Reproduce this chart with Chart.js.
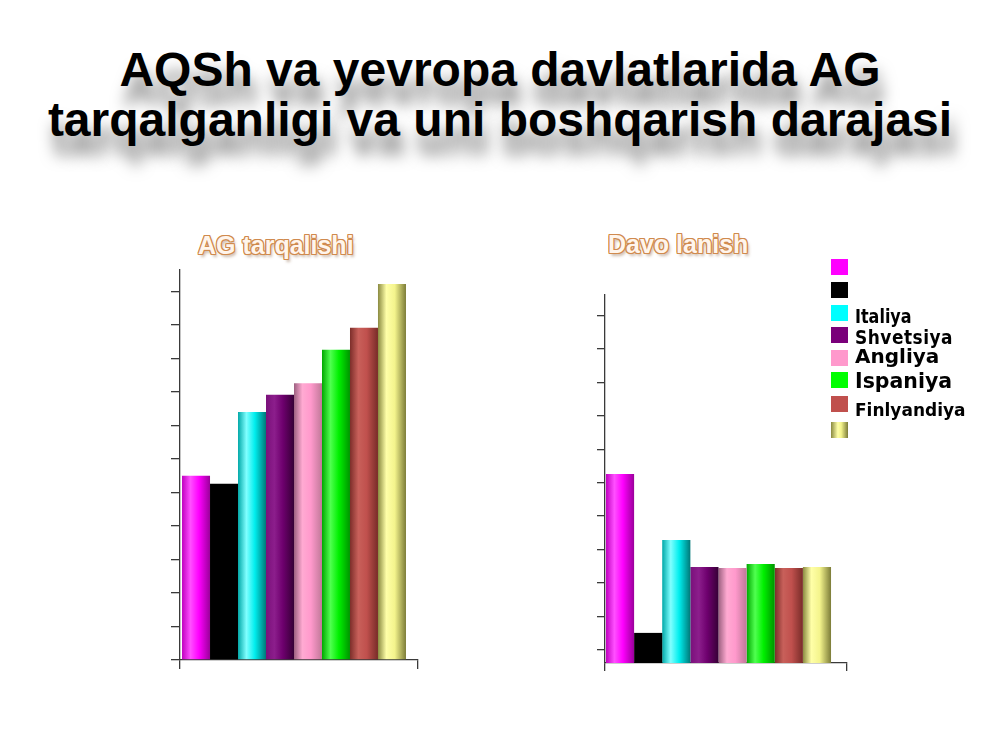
<!DOCTYPE html>
<html><head><meta charset="utf-8">
<script src="https://cdn.jsdelivr.net/npm/chart.js@4.4.1/dist/chart.umd.min.js"></script>
<style>
html,body{margin:0;padding:0;background:#fff;width:1000px;height:750px;overflow:hidden;font-family:"Liberation Sans",Arial,sans-serif}
#title{position:absolute;left:0;top:45px;width:1000px;text-align:center;font-weight:bold;font-size:48px;line-height:49.5px;color:#000;text-shadow:4px 19px 15px rgba(0,0,0,0.5)}
.sub{position:absolute;font-weight:bold;font-size:25px;line-height:25px;color:#fff5ec;white-space:nowrap;
  text-shadow:1px 0 0 #d08a4e,-1px 0 0 #d08a4e,0 1px 0 #d08a4e,0 -1px 0 #d08a4e,1px 1px 0 #d08a4e,-1px -1px 0 #d08a4e,1px -1px 0 #d08a4e,-1px 1px 0 #d08a4e,2px 3px 3px rgba(110,60,20,0.35)}
canvas{position:absolute}
.lb{position:absolute;left:831px;width:17px;height:16px}
.lt{position:absolute;left:855px;font-family:"DejaVu Sans",sans-serif;font-weight:bold;white-space:nowrap;color:#000;transform-origin:0 0.846em}
</style></head>
<body>
<div id="title">AQSh va yevropa davlatlarida AG<br>tarqalganligi va uni boshqarish darajasi</div>
<div class="sub" id="sub1" style="left:198px;top:233px">AG tarqalishi</div>
<div class="sub" id="sub2" style="left:608px;top:232px">Davo lanish</div>
<canvas id="c1" width="270" height="420" style="left:160px;top:260px"></canvas>
<canvas id="c2" width="280" height="400" style="left:584px;top:285px"></canvas>
<div id="legend"></div>
<script>
// ---- data ----
const legendLabels = ["", "", "Italiya", "Shvetsiya", "Angliya", "Ispaniya", "Finlyandiya", ""];
const prevalence = [27.5, 26.3, 37.0, 39.6, 41.3, 46.3, 49.6, 56.1];   // AG tarqalishi
const treatment  = [56.5, 9.0, 36.8, 28.7, 28.4, 29.6, 28.4, 28.7];    // Davo lanish
const prevalenceTicks = [0, 5, 10, 15, 20, 25, 30, 35, 40, 45, 50, 55];
const treatmentTicks  = [3.9, 13.9, 23.9, 33.9, 43.9, 53.9, 63.9, 73.9, 83.9, 93.9, 103.9];

// ---- styles ----
const baseColors = ["#ff00ff", "#000000", "#00ffff", "#7a007a", "#ff99cc", "#00ff00", "#c0504d", "#ffff99"];
const shades = [
  ["#c000c0", "#ff50ff", "#ff00ff", "#9a009a"],
  ["#000000", "#000000", "#000000", "#000000"],
  ["#00a8a8", "#80ffff", "#00eeee", "#007878"],
  ["#7a107a", "#8c1e8c", "#6e006e", "#360036"],
  ["#9c6080", "#ffaad2", "#ff99cc", "#c07898"],
  ["#00a800", "#50ff50", "#00f000", "#009400"],
  ["#7c2e2a", "#c8605a", "#c0504d", "#782c28"],
  ["#8a8a40", "#ffffa8", "#f4f48c", "#7c7c38"]
];
const stops = [0, 0.3, 0.6, 1];
const legendTops = [259, 282, 305, 327, 350, 372, 396, 422];
const labelSizes = [16, 16, 16, 17, 20, 20.5, 17, 16];
const labelBaselines = [0, 0, 323.3, 344.3, 363.3, 388.3, 416.7, 0];
const labelScaleY = [1, 1, 1.2, 1.15, 1, 1.04, 1.06, 1];
const axisColor = "#3a3a3a";

function barFill(c, i, pct, pos, n) {
  const chart = c.chart, a = chart.chartArea;
  if (!a) return baseColors[i];
  const w = a.right - a.left;
  const groupW = w * pct, bw = groupW / n;
  const x0 = a.left + w * pos - groupW / 2 + i * bw;
  const g = chart.ctx.createLinearGradient(x0, 0, x0 + bw, 0);
  shades[i].forEach((col, k) => g.addColorStop(stops[k], col));
  return g;
}

function makeChart(id, values, yMax, yTicks, pct, pos, pad, tickLen) {
  return new Chart(document.getElementById(id), {
    type: 'bar',
    data: {
      datasets: values.map((v, i) => ({
        label: legendLabels[i],
        data: [{ x: pos, y: v }],
        backgroundColor: (c) => barFill(c, i, pct, pos, values.length),
        borderWidth: 0
      }))
    },
    options: {
      responsive: false, animation: false, events: [],
      layout: { padding: pad },
      datasets: { bar: { categoryPercentage: pct, barPercentage: 1 } },
      plugins: { legend: { display: false }, title: { display: false }, tooltip: { enabled: false } },
      scales: {
        x: {
          type: 'linear', min: 0, max: 1, offset: false,
          grid: { display: true, offset: false, drawOnChartArea: false, drawTicks: true, tickLength: tickLen, color: axisColor, lineWidth: 1.3 },
          border: { display: true, color: axisColor, width: 1.3 },
          ticks: { display: false, stepSize: 1 },
          afterFit: (s) => { s.height = tickLen; }
        },
        y: {
          min: 0, max: yMax,
          grid: { display: true, drawOnChartArea: false, drawTicks: true, tickLength: tickLen, color: axisColor, lineWidth: 1.3 },
          border: { display: true, color: axisColor, width: 1.3 },
          ticks: { display: false },
          afterBuildTicks: (s) => { s.ticks = yTicks.map(v => ({ value: v })); },
          afterFit: (s) => { s.width = tickLen; }
        }
      }
    }
  });
}

makeChart('c1', prevalence, 58.2, prevalenceTicks, 0.941, 0.479, { left: 11, top: 10, right: 12, bottom: 11 }, 9);
makeChart('c2', treatment, 110, treatmentTicks, 0.93, 0.469, { left: 13, top: 10, right: 17, bottom: 14 }, 8);

// ---- legend ----
const leg = document.getElementById('legend');
legendLabels.forEach((lab, i) => {
  const b = document.createElement('div');
  b.className = 'lb';
  b.style.top = legendTops[i] + 'px';
  b.style.background = (i === 7)
    ? 'linear-gradient(90deg,' + shades[i][0] + ',' + shades[i][1] + ' 40%,' + shades[i][2] + ' 60%,' + shades[i][3] + ')'
    : baseColors[i];
  leg.appendChild(b);
  if (lab) {
    const t = document.createElement('div');
    t.className = 'lt';
    t.textContent = lab;
    const fs = labelSizes[i];
    t.style.fontSize = fs + 'px';
    t.style.lineHeight = fs + 'px';
    t.style.top = (labelBaselines[i] - 0.846 * fs) + 'px';
    t.style.transform = 'scaleY(' + labelScaleY[i] + ')';
    if (i === 3) t.style.letterSpacing = '0.5px';
    leg.appendChild(t);
  }
});
</script>
</body></html>
